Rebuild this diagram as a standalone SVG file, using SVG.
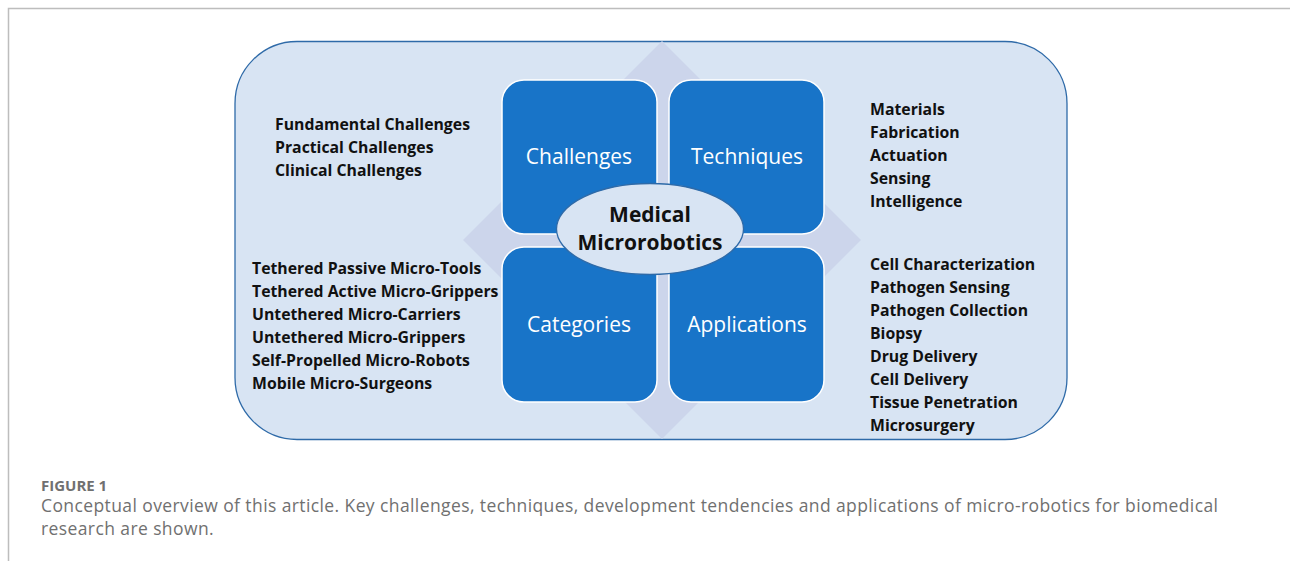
<svg xmlns="http://www.w3.org/2000/svg" width="1290" height="561" viewBox="0 0 1290 561">
<style>
.box{fill:#1874c8;stroke:#ffffff;stroke-width:1.5}
.bt{font-family:"Open Sans","Liberation Sans",sans-serif;font-size:21px;fill:#ffffff;text-anchor:middle}
.lt{font-family:"Open Sans","Liberation Sans",sans-serif;font-size:15.8px;font-weight:bold;fill:#111111}
.ct{font-family:"Open Sans","Liberation Sans",sans-serif;font-size:21px;font-weight:bold;fill:#111111;text-anchor:middle}
.cap{font-family:"Open Sans","Lato",sans-serif;fill:#707070}
</style>
<rect width="1290" height="561" fill="#ffffff"/>
<path d="M8.5 561 V8.5 H1290" fill="none" stroke="#bdbdbd" stroke-width="1.5"/>
<g id="frame">
<rect x="235" y="41.5" width="832" height="398" rx="62" ry="62" fill="#d8e4f3" stroke="#2e6aa8" stroke-width="1.3"/>
</g>
<g id="connectors">
<polygon points="662,41 861,240 662,439 463,240" fill="#ccd5eb"/>
</g>
<g id="challenges">
<rect class="box" x="502" y="80" width="155" height="154" rx="22"/>
<text class="bt" x="579" y="164">Challenges</text>
</g>
<g id="techniques">
<rect class="box" x="669" y="80" width="155" height="154" rx="22"/>
<text class="bt" x="747" y="164">Techniques</text>
</g>
<g id="categories">
<rect class="box" x="502" y="247" width="155" height="155" rx="22"/>
<text class="bt" x="579" y="332">Categories</text>
</g>
<g id="applications">
<rect class="box" x="669" y="247" width="155" height="155" rx="22"/>
<text class="bt" x="747" y="332">Applications</text>
</g>
<g id="center">
<ellipse cx="650" cy="229" rx="93.5" ry="45.5" fill="#d8e4f3" stroke="#2e6aa8" stroke-width="1.3"/>
<text class="ct" x="650" y="222">Medical</text>
<text class="ct" x="650" y="250">Microrobotics</text>
</g>
<g id="challenge-list">
<text class="lt" x="275" y="130">Fundamental Challenges</text>
<text class="lt" x="275" y="153">Practical Challenges</text>
<text class="lt" x="275" y="176">Clinical Challenges</text>
</g>
<g id="category-list">
<text class="lt" x="252" y="274">Tethered Passive Micro-Tools</text>
<text class="lt" x="252" y="297">Tethered Active Micro-Grippers</text>
<text class="lt" x="252" y="320">Untethered Micro-Carriers</text>
<text class="lt" x="252" y="343">Untethered Micro-Grippers</text>
<text class="lt" x="252" y="366">Self-Propelled Micro-Robots</text>
<text class="lt" x="252" y="389">Mobile Micro-Surgeons</text>
</g>
<g id="technique-list">
<text class="lt" x="870" y="115">Materials</text>
<text class="lt" x="870" y="138">Fabrication</text>
<text class="lt" x="870" y="161">Actuation</text>
<text class="lt" x="870" y="184">Sensing</text>
<text class="lt" x="870" y="207">Intelligence</text>
</g>
<g id="application-list">
<text class="lt" x="870" y="270">Cell Characterization</text>
<text class="lt" x="870" y="293">Pathogen Sensing</text>
<text class="lt" x="870" y="316">Pathogen Collection</text>
<text class="lt" x="870" y="339">Biopsy</text>
<text class="lt" x="870" y="362">Drug Delivery</text>
<text class="lt" x="870" y="385">Cell Delivery</text>
<text class="lt" x="870" y="408">Tissue Penetration</text>
<text class="lt" x="870" y="431">Microsurgery</text>
</g>
<g id="caption">
<text class="cap" x="41" y="491" font-size="15" font-weight="bold" fill="#666666">FIGURE 1</text>
<text class="cap" x="41" y="512" font-size="17.5" letter-spacing="0.4">Conceptual overview of this article. Key challenges, techniques, development tendencies and applications of micro-robotics for biomedical</text>
<text class="cap" x="41" y="535" font-size="17.5" letter-spacing="0.4">research are shown.</text>
</g>
</svg>
